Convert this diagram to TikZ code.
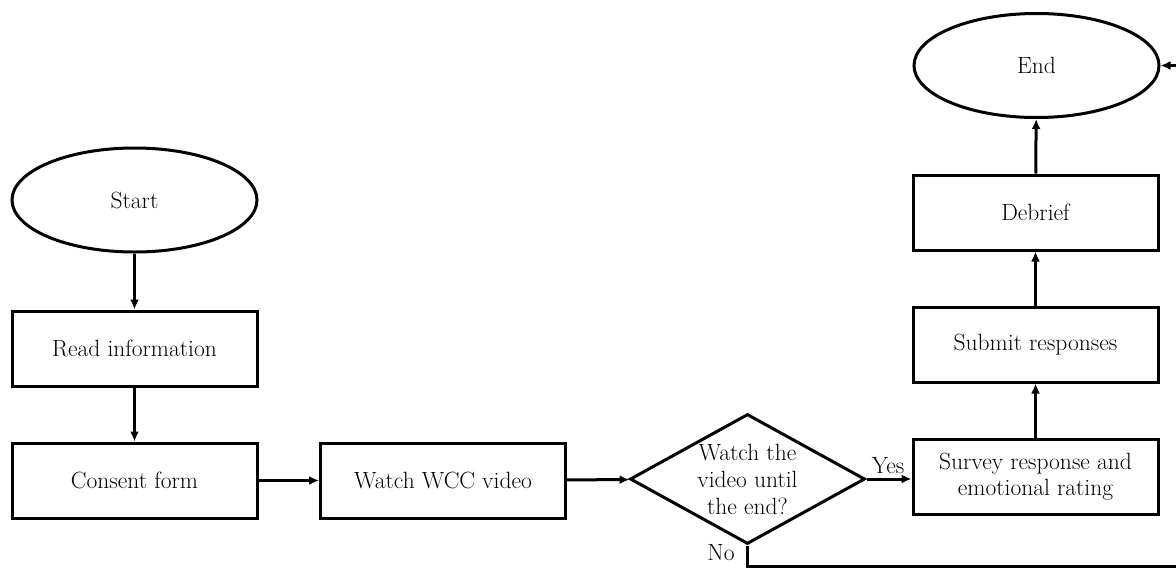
\documentclass[tikz,border=0pt]{standalone}
\usetikzlibrary{shapes.geometric,arrows.meta}
\begin{document}
\begin{tikzpicture}[x=1pt,y=-1pt,
  every node/.style={font=\fontsize{23.5}{27}\selectfont, text=black},
  flow/.style={draw=black, line width=3pt, -{Latex[length=10pt,width=9pt]}},
  stepbox/.style={draw=black, line width=3pt, rectangle, minimum width=245pt, minimum height=75pt, inner sep=0pt},
  terminal/.style={draw=black, line width=3pt, ellipse, minimum width=245pt, minimum height=104pt, inner sep=0pt},
  decision/.style={draw=black, line width=3pt, diamond, minimum width=235pt, minimum height=130pt, inner sep=0pt}
]
\useasboundingbox (0,0) rectangle (1176,568);
\clip (0,0) rectangle (1176,568);

% left column
\node[terminal] (start) at (134.5,200) {Start};
\node[stepbox] (read) at (134.5,348.5) {Read information};
\node[stepbox] (consent) at (134.5,480.5) {Consent form};

% middle row
\node[stepbox] (watch) at (443,480.5) {Watch WCC video};
\node[decision] (dec) at (747.5,479) {};
\node[align=center, inner sep=0pt] (dectext) at (dec.center) {Watch the\\video until\\the end?};

% right column
\node[stepbox] (survey) at (1035.5,477) {\begin{tabular}{@{}c@{}}Survey response and\\[-1pt]emotional rating\end{tabular}};
\node[stepbox] (submit) at (1035.5,344.5) {Submit responses};
\node[stepbox] (debrief) at (1035.5,212.5) {Debrief};
\node[terminal] (end) at (1036.5,65.5) {End};

% connectors
\draw[flow] (start) -- (read);
\draw[flow] (read) -- (consent);
\draw[flow] (consent) -- (watch);
\draw[flow] (watch) -- (dec);
\draw[flow] (dec.east) -- (survey.west |- dec.east);
\draw[flow] (survey) -- (submit);
\draw[flow] (submit) -- (debrief);
\draw[flow] (debrief) -- (end);

% "No" branch running along the bottom and right edges back to End
\coordinate (corner) at (1183,566);
\draw[flow] (dec.south) |- (corner) |- (end.east);

% branch labels
\node (yes) at (888,466) {Yes};
\node (no) at (721,553) {No};
\end{tikzpicture}
\end{document}
